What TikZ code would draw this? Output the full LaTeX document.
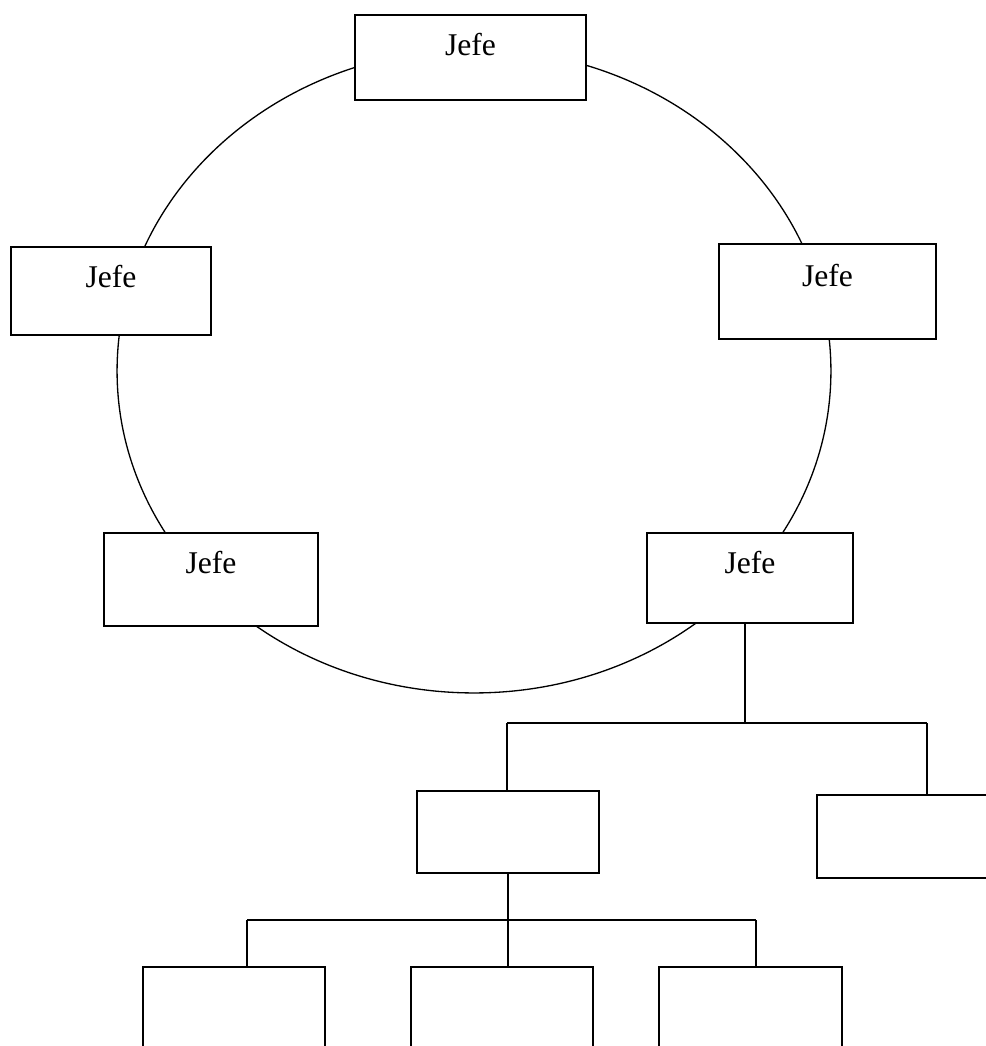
\documentclass[tikz,border=0pt]{standalone}
\usepackage{fontspec}
\setmainfont{Liberation Serif}
\usepackage{tikz}
\usetikzlibrary{positioning}

\tikzset{
  box/.style={draw,fill=white,line width=.75pt,inner sep=0pt},
  jefetext/.style={font=\fontsize{18}{20}\selectfont,inner sep=0pt}
}

\begin{document}
\begin{tikzpicture}[x=.02cm,y=-.02cm,line width=.75pt]
    \useasboundingbox (0,0) rectangle (986,1046);
    %the ring of bosses
    \draw (474,371) ellipse [x radius=7.14cm, y radius=6.44cm];
    \node[box,minimum width=4.62cm,minimum height=1.7cm] (b1) at (470.5,57.5) {};
    \node[box,minimum width=4cm,minimum height=1.76cm] (b2) at (111,291) {};
    \node[box,minimum width=4.34cm,minimum height=1.9cm] (b3) at (827.5,291.5) {};
    \node[box,minimum width=4.28cm,minimum height=1.86cm] (b4) at (211,579.5) {};
    \node[box,minimum width=4.12cm,minimum height=1.8cm] (b5) at (750,578) {};
    \node[jefetext] (t1) at ([yshift=-.6cm]b1.north) {Jefe};
    \node[jefetext] (t2) at ([yshift=-.6cm]b2.north) {Jefe};
    \node[jefetext] (t3) at ([yshift=-.64cm]b3.north) {Jefe};
    \node[jefetext] (t4) at ([yshift=-.6cm]b4.north) {Jefe};
    \node[jefetext] (t5) at ([yshift=-.6cm]b5.north) {Jefe};
    %the tree below
    \node[box,minimum width=3.64cm,minimum height=1.64cm] (s1) at (508,832) {};
    \node[box,minimum width=3.64cm,minimum height=1.66cm] (s2) at (908,836.5) {};
    \node[box,minimum width=3.64cm,minimum height=1.7cm] (c1) at (234,1009.5) {};
    \node[box,minimum width=3.64cm,minimum height=1.7cm] (c2) at (502,1009.5) {};
    \node[box,minimum width=3.66cm,minimum height=1.7cm] (c3) at (750.5,1009.5) {};
    \coordinate (bar1l) at (507,723);
    \coordinate (bar1r) at (927,723);
    \coordinate (bar2l) at (247,920);
    \coordinate (bar2r) at (756,920);
    \draw (b5.south) ++(-5,0) coordinate (b5s) -- (b5s |- bar1l);
    \draw (bar1l) -- (bar1r);
    \draw (bar1l) -- (bar1l |- s1.north);
    \draw (bar1r) -- (bar1r |- s2.north);
    \draw (s1.south) -- (s1.south |- bar2l);
    \draw (bar2l) -- (bar2r);
    \draw (bar2l) -- (bar2l |- c1.north);
    \draw (s1.south |- bar2l) -- (s1.south |- c2.north);
    \draw (bar2r) -- (bar2r |- c3.north);
\end{tikzpicture}
\end{document}
